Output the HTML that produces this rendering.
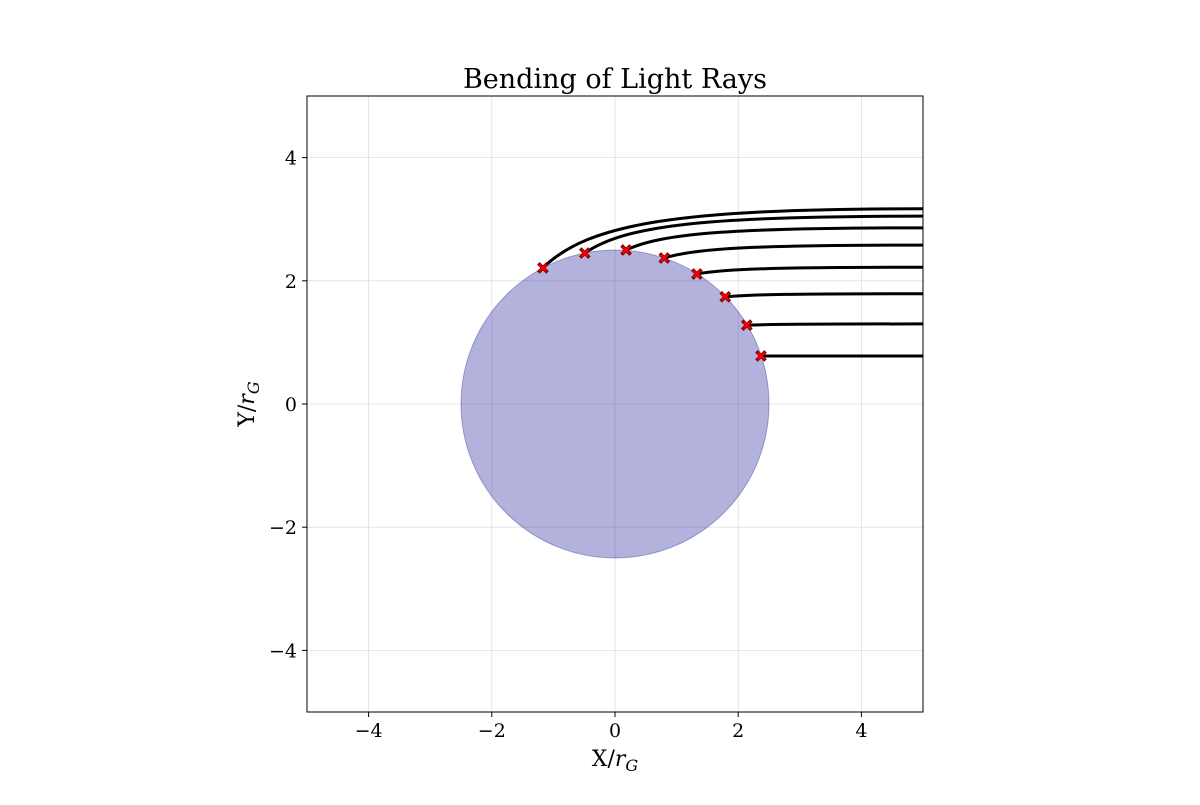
<!DOCTYPE html>
<html><head><meta charset="utf-8"><style>
body{margin:0;background:#fff}
svg text{font-family:"DejaVu Serif","Liberation Serif",serif;fill:#000}
</style></head><body>
<svg id="chart" width="1200" height="800" viewBox="0 0 1200 800">
<text x="615" y="88" font-size="27" text-anchor="middle">Bending of Light Rays</text>
<g id="grid"></g>
<g id="body"></g>
<g id="rays"></g>
<g id="marks"></g>
<rect x="307" y="96" width="616" height="616" fill="none" stroke="#000" stroke-width="1"/>
<g id="ticks"></g>
<text x="615" y="766" font-size="22" text-anchor="middle">X/<tspan font-style="italic">r</tspan><tspan font-size="16" dy="5" font-style="italic">G</tspan></text>
<text transform="translate(254,404) rotate(-90)" font-size="22" text-anchor="middle">Y/<tspan font-style="italic">r</tspan><tspan font-size="16" dy="5" font-style="italic">G</tspan></text>
</svg>
<script>
const tickValues=[-4,-2,0,2,4];
const tickLabels=["\u22124","\u22122","0","2","4"];
const bodyRadius=[2.5];
const rayStartY=[3.17,3.05,2.86,2.58,2.22,1.79,1.30,0.78];
const rayEndX=[-1.17,-0.49,0.18,0.80,1.33,1.79,2.14,2.37];
const rayEndY=[2.21,2.45,2.50,2.37,2.11,1.74,1.28,0.78];
const xStart=5;
const NS="http://www.w3.org/2000/svg";
const sx=v=>615+v*61.6, sy=v=>404-v*61.6;
function mk(t,a,p){const e=document.createElementNS(NS,t);for(const k in a)e.setAttribute(k,a[k]);p.appendChild(e);return e;}
const grid=document.getElementById('grid'),ticks=document.getElementById('ticks');
tickValues.forEach((v,i)=>{
 let l=mk('line',{x1:sx(v),x2:sx(v),y1:96,y2:712,stroke:'#e0e0e0','stroke-width':0.8},grid);
 
 
 l=mk('line',{x1:307,x2:923,y1:sy(v),y2:sy(v),stroke:'#e0e0e0','stroke-width':0.8},grid);
 
 
 l=mk('line',{x1:sx(v),x2:sx(v),y1:712,y2:717,stroke:'#000'},ticks);
 
 
 l=mk('line',{x1:302,x2:307,y1:sy(v),y2:sy(v),stroke:'#000'},ticks);
 
 
 let t=mk('text',{x:sx(v),y:737,'font-size':19,'text-anchor':'middle'},ticks);t.textContent=tickLabels[i];
 
 
 t=mk('text',{x:297,y:sy(v)+7,'font-size':19,'text-anchor':'end'},ticks);t.textContent=tickLabels[i];
 
 
});
const c=mk('circle',{cx:sx(0),cy:sy(0),r:bodyRadius[0]*61.6,fill:'rgba(0,0,139,0.3)',stroke:'rgba(0,0,139,0.3)','stroke-width':1},document.getElementById('body'));


const rays=document.getElementById('rays'),marks=document.getElementById('marks');
rayStartY.forEach((y0,i)=>{
 const xe=rayEndX[i],ye=rayEndY[i],d=xStart-xe;
 const p=`M${sx(xStart)},${sy(y0)} C${sx(xe+d*0.35)},${sy(y0)} ${sx(xe+d*0.12)},${sy(ye+(y0-ye)*0.75)} ${sx(xe)},${sy(ye)}`;
 const r=mk('path',{d:p,fill:'none',stroke:'#000','stroke-width':3},rays);
 
 
 const X=sx(xe),Y=sy(ye),s=3.3;
 const m=mk('path',{d:`M${X-s},${Y-s}L${X+s},${Y+s}M${X-s},${Y+s}L${X+s},${Y-s}`,stroke:'#8b0000','stroke-width':3.6,'stroke-linecap':'square'},marks);
 
 
 const m2=mk('path',{d:`M${X-s},${Y-s}L${X+s},${Y+s}M${X-s},${Y+s}L${X+s},${Y-s}`,stroke:'#f00','stroke-width':1.8},marks);
 
 
});
</script>
</body></html>
